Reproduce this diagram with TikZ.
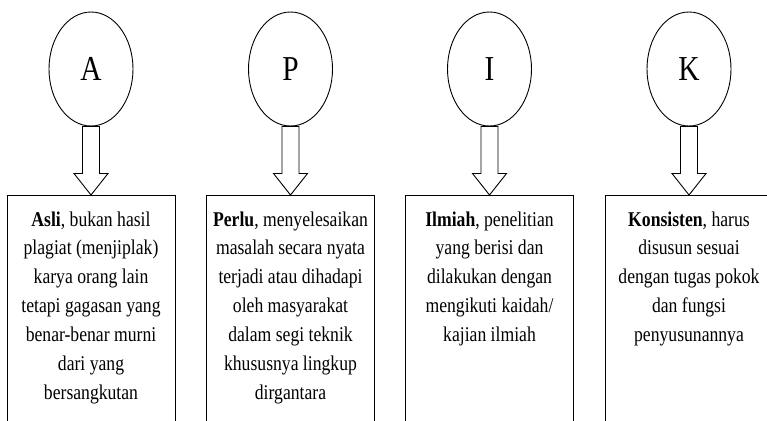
\documentclass[tikz,border=0pt]{standalone}
\usepackage{fontspec}
\setmainfont{Liberation Serif}[FakeStretch=0.84]
\usetikzlibrary{shapes.geometric,calc}
\tikzset{
  letterell/.style={draw=black, line width=0.9pt, ellipse, inner sep=0pt,
    minimum width=84pt, minimum height=114pt, font=\fontsize{35}{40}\selectfont},
  infobox/.style={draw=black, line width=0.9pt, rectangle, inner sep=0pt,
    minimum width=168pt, minimum height=300pt, anchor=north},
  infotext/.style={align=center, inner sep=0pt, anchor=north,
    font=\fontsize{21}{28.9}\selectfont},
  blockarrow/.style={draw=black, line width=0.9pt, fill=white, line join=miter}
}
\begin{document}
\begin{tikzpicture}[x=1pt,y=-1pt]
\useasboundingbox (0,0) rectangle (767,420);
\clip (0,0) rectangle (767,420);
% letter ellipses
\node[letterell] (e1) at (91,69) {A};
\node[letterell] (e2) at (290.5,69) {P};
\node[letterell] (e3) at (489.5,69) {I};
\node[letterell] (e4) at (689,69) {K};
% boxes
\node[infobox] (b1) at (91,195) {};
\node[infobox] (b2) at (290.5,195) {};
\node[infobox] (b3) at (489.5,195) {};
\node[infobox] (b4) at (689,195) {};
% texts
\node[infotext] (t1) at (91,211.3) {\textbf{Asli}, bukan hasil\\plagiat (menjiplak)\\karya orang lain\\tetapi gagasan yang\\benar-benar murni\\dari yang\\bersangkutan};
\node[infotext] (t2) at (290.5,211.3) {\textbf{Perlu}, menyelesaikan\\masalah secara nyata\\terjadi atau dihadapi\\oleh masyarakat\\dalam segi teknik\\khususnya lingkup\\dirgantara};
\node[infotext] (t3) at (489.5,211.3) {\textbf{Ilmiah}, penelitian\\yang berisi dan\\dilakukan dengan\\mengikuti kaidah/\\kajian ilmiah};
\node[infotext] (t4) at (689,211.3) {\textbf{Konsisten}, harus\\disusun sesuai\\dengan tugas pokok\\dan fungsi\\penyusunannya};
% block arrows
\foreach \i in {1,2,3,4}{
  \draw[blockarrow] ($(e\i.south)+(-8.5,0)$) -- ($(b\i.north)+(-8.5,-21.5)$)
    -- ($(b\i.north)+(-17,-21.5)$) -- (b\i.north) -- ($(b\i.north)+(17,-21.5)$)
    -- ($(b\i.north)+(8.5,-21.5)$) -- ($(e\i.south)+(8.5,0)$) -- cycle;
}
\end{tikzpicture}
\end{document}
